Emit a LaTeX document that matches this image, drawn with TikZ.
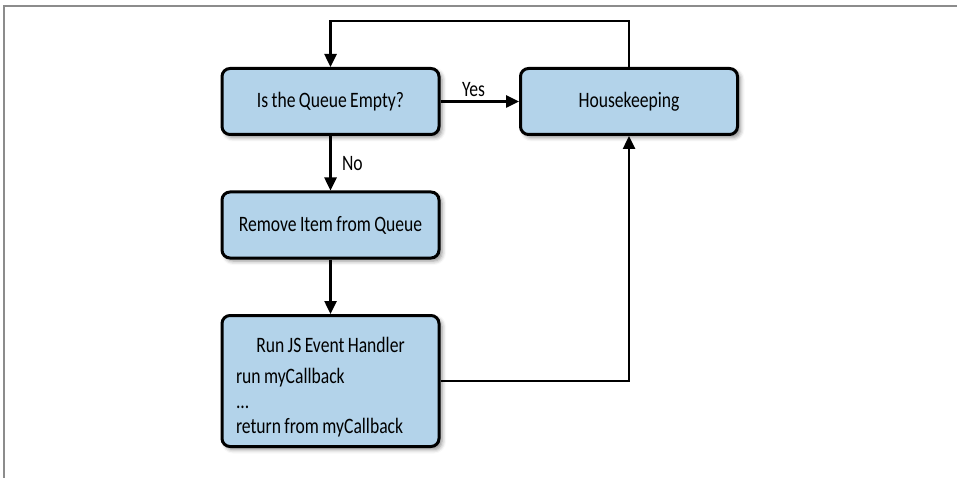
\documentclass[tikz,border=0pt]{standalone}
\usepackage{fontspec}
\setmainfont{Carlito}[FakeStretch=0.8, WordSpace=0.85]
\usetikzlibrary{arrows.meta,shadows.blur}
\definecolor{boxblue}{HTML}{B3D3EA}
\definecolor{framegray}{HTML}{8C8C8C}
\begin{document}
\begin{tikzpicture}
      [x=1pt, y=-1pt, auto,
       font=\fontsize{22}{25}\selectfont,
       >={Triangle[length=13pt, width=12pt]},
       box/.style={draw, line width=3pt, rounded corners=8pt, fill=boxblue,
         minimum width=217pt, minimum height=66pt, inner sep=0pt,
         blur shadow={shadow xshift=3pt, shadow yshift=-3pt, shadow blur radius=4pt, shadow opacity=45}},
       link/.style={line width=2.5pt}]
      \useasboundingbox (0, 0) rectangle (957, 478);
      \draw[framegray, line width=2pt] (3.5, 478) -- (3.5, 6.5) -- (957, 6.5);
      \node[box](1) at (330.5, 101.5) {Is the Queue Empty?};
      \node[box](2) at (629, 101.5) {Housekeeping};
      \node[box](3) at (330.5, 225) {Remove Item from Queue};
      \node[box, minimum height=131pt, text width=189pt, align=left](4) at (330.5, 381)
        {\spaceskip=0pt\xspaceskip=0pt\makebox[\linewidth]{\rule{0pt}{27pt}Run JS Event Handler}\\[6pt] run myCallback\\ ...\\ return from myCallback};
      \coordinate(5) at (629, 21);
      \coordinate(6) at (330.5, 21);
      \draw[link, ->](2) -- (5) -- (6) -- (1);
      \draw[link, ->](1) --node[above, pos=0.42]{Yes} (2);
      \draw[link, ->](1) --node[right, xshift=7pt]{No} (3);
      \draw[link, ->](3) -- (4);
      \draw[link, ->](4) -| (2);
  \end{tikzpicture}
\end{document}
